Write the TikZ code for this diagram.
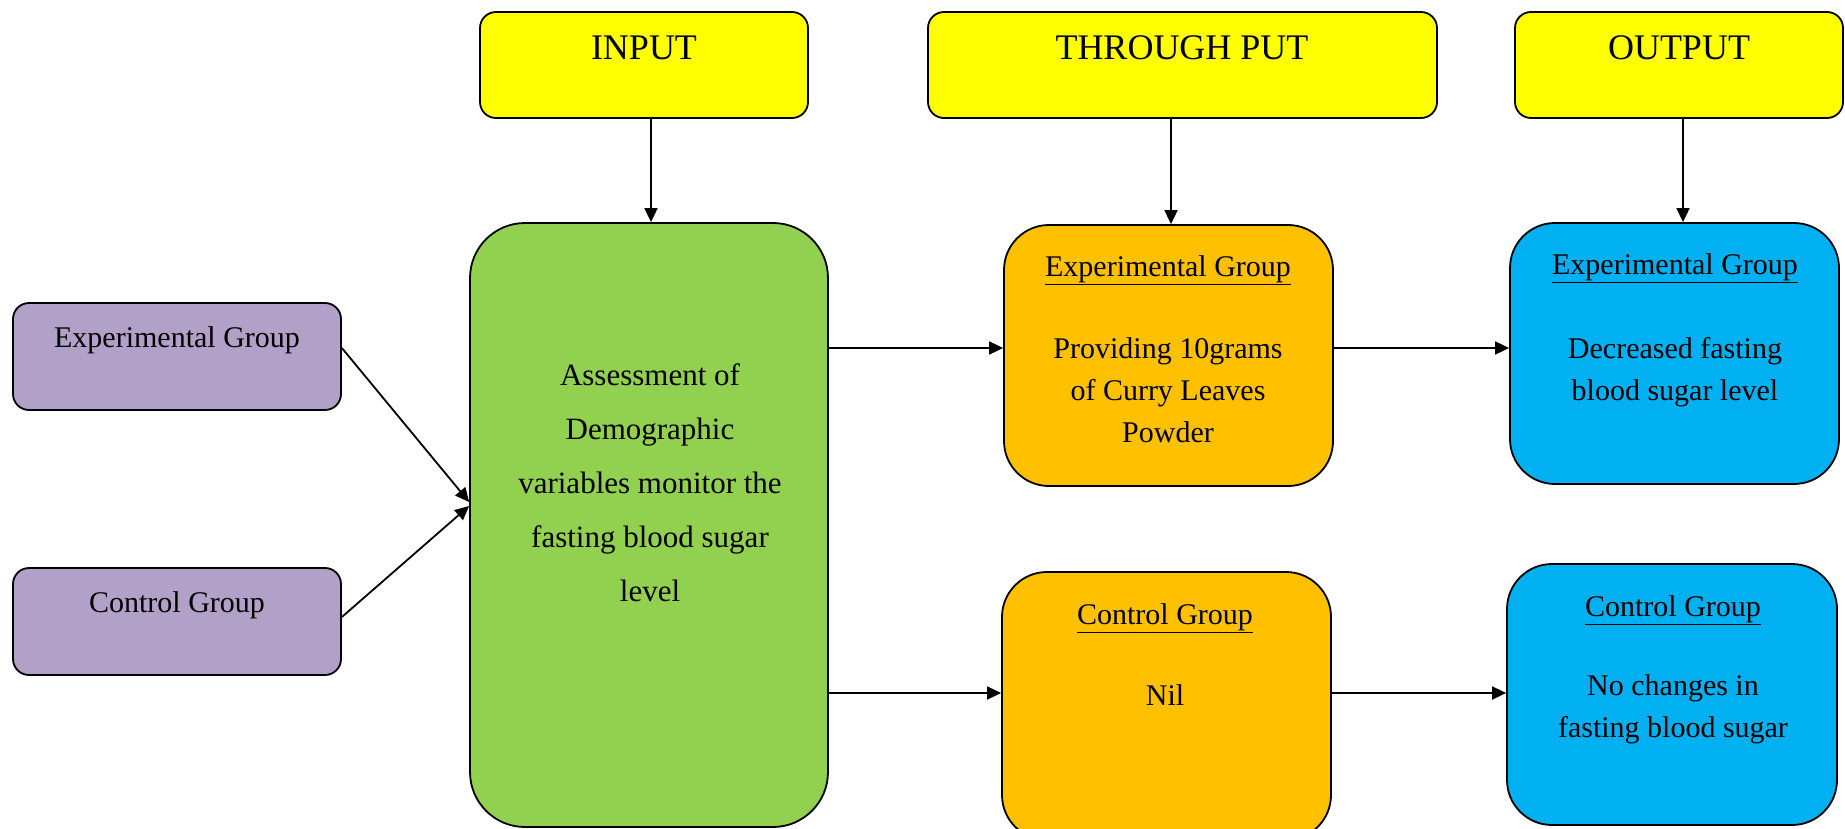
\documentclass[tikz,border=0pt]{standalone}
\usepackage{fontspec}
\setmainfont{Liberation Serif}
\usetikzlibrary{arrows.meta}
\definecolor{hdrY}{HTML}{FFFF00}
\definecolor{grnC}{HTML}{92D050}
\definecolor{orgC}{HTML}{FFC000}
\definecolor{bluC}{HTML}{00B0F0}
\definecolor{purC}{HTML}{B1A0C7}
\begin{document}
\begin{tikzpicture}[x=1pt,y=-1pt,
  box/.style={draw=black, line width=1.8pt, rectangle, inner sep=0pt},
  conn/.style={line width=1.8pt, -{Triangle[length=14pt,width=13pt]}},
  txt/.style={inner sep=0pt, align=center, font=\fontsize{30}{42}\selectfont},
  hdrtxt/.style={inner sep=0pt, align=center, font=\fontsize{36}{42}\selectfont}]
\useasboundingbox (0,0) rectangle (1845,829);
\clip (0,0) rectangle (1845,829);
% header boxes
\node[box, fill=hdrY, rounded corners=16pt, minimum width=328pt, minimum height=106pt] (input) at (644,65) {};
\node[box, fill=hdrY, rounded corners=16pt, minimum width=509pt, minimum height=106pt] (through) at (1182.5,65) {};
\node[box, fill=hdrY, rounded corners=16pt, minimum width=328pt, minimum height=106pt] (output) at (1679,65) {};
\node[hdrtxt] (inputT) at (644,48) {INPUT};
\node[hdrtxt] (throughT) at (1182,48) {THROUGH PUT};
\node[hdrtxt] (outputT) at (1679,48) {OUTPUT};
% left groups
\node[box, fill=purC, rounded corners=16pt, minimum width=328pt, minimum height=107pt] (pe) at (177,356.5) {};
\node[box, fill=purC, rounded corners=16pt, minimum width=328pt, minimum height=107pt] (pc) at (177,621.5) {};
\node[txt] (peT) at (177,340) {Experimental Group};
\node[txt] (pcT) at (177,605) {Control Group};
% green
\node[box, fill=grnC, rounded corners=55pt, minimum width=358pt, minimum height=604pt] (green) at (649,525) {};
\node[txt, font=\fontsize{31}{54}\selectfont] (greenT) at (650,482.5) {Assessment of\\Demographic\\variables monitor the\\fasting blood sugar\\level};
% orange
\node[box, fill=orgC, rounded corners=45pt, minimum width=329pt, minimum height=261pt] (oe) at (1168.5,355.5) {};
\node[box, fill=orgC, rounded corners=45pt, minimum width=329pt, minimum height=268pt] (oc) at (1166.5,706) {};
\node[txt] (oeH) at (1168,270) {\underline{Experimental Group}};
\node[txt] (oeT) at (1168,390) {Providing 10grams\\of Curry Leaves\\Powder};
\node[txt] (ocH) at (1165,618) {\underline{Control Group}};
\node[txt] (ocT) at (1165,695) {Nil};
% blue
\node[box, fill=bluC, rounded corners=45pt, minimum width=329pt, minimum height=261pt] (be) at (1674.5,353.5) {};
\node[box, fill=bluC, rounded corners=45pt, minimum width=330pt, minimum height=261pt] (bc) at (1672,694.5) {};
\node[txt] (beH) at (1675,268) {\underline{Experimental Group}};
\node[txt] (beT) at (1675,372) {Decreased fasting\\blood sugar level};
\node[txt] (bcH) at (1673,610) {\underline{Control Group}};
\node[txt] (bcT) at (1673,709.5) {No changes in\\fasting blood sugar};
% connectors
\draw[conn] ([xshift=7pt]input.south) -- ([xshift=7pt]input.south |- green.north);
\draw[conn] ([xshift=-11.5pt]through.south) -- ([xshift=-11.5pt]through.south |- oe.north);
\draw[conn] ([xshift=4pt]output.south) -- ([xshift=4pt]output.south |- be.north);
\draw[conn] ([yshift=8.5pt]pe.east) -- ([yshift=23pt]green.west);
\draw[conn] ([yshift=4.5pt]pc.east) -- ([yshift=19pt]green.west);
\draw[conn] ([yshift=177pt]green.east) -- ([yshift=177pt]green.east -| oe.west);
\draw[conn] ([yshift=-168pt]green.east) -- ([yshift=-168pt]green.east -| oc.west);
\draw[conn] ([yshift=7.5pt]oe.east) -- ([yshift=7.5pt]oe.east -| be.west);
\draw[conn] ([yshift=13pt]oc.east) -- ([yshift=13pt]oc.east -| bc.west);
\end{tikzpicture}
\end{document}
